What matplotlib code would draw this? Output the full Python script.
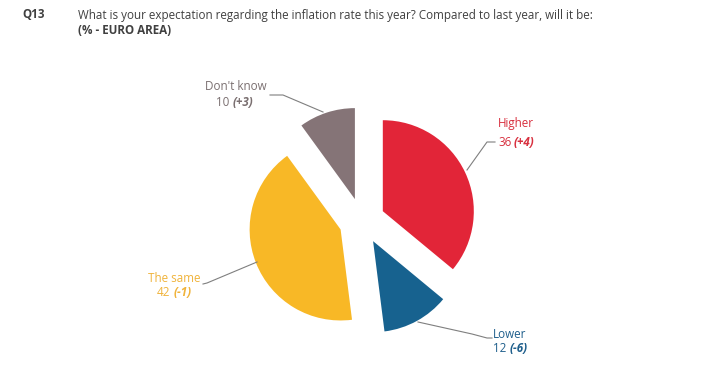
import matplotlib.pyplot as plt

plt.rcParams['font.family'] = ['Open Sans', 'DejaVu Sans']

labels = ["Higher", "Lower", "The same", "Don't know"]
values = [36, 12, 42, 10]
changes = ["(+4)", "(-6)", "(-1)", "(+3)"]
colors = ["#E22538", "#17628F", "#F8B826", "#857477"]
text_colors = ["#D8303F", "#1F5F8C", "#F0B33A", "#7A6F70"]

W, H = 705, 369

fig = plt.figure(figsize=(W / 100, H / 100), dpi=100)
ax = fig.add_axes([0, 0, 1, 1])

cx, cy, r = 362, H - 221, 91
# explode is in data units here (pixels)
ax.pie(values, colors=colors, startangle=90, counterclock=False,
       explode=[23] * 4, radius=r, center=(cx, cy),
       wedgeprops=dict(linewidth=0), frame=False)
ax.set_xlim(0, W)
ax.set_ylim(0, H)
ax.set_aspect('auto')
ax.axis('off')

fs = 8.4
# header
ax.text(22, H - 15, "Q13", fontsize=fs, fontweight='bold', color='#404040', va='center')
ax.text(78, H - 15, "What is your expectation regarding the inflation rate this year? "
        "Compared to last year, will it be:", fontsize=fs, color='#404040', va='center')
ax.text(78, H - 31, "(% - EURO AREA)", fontsize=fs, fontweight='bold', color='#404040', va='center')

# label placement (top-down pixel positions): name pos, value line, alignment, leader line
label_pos = {
    "Higher": ((498, 123), (498, 142), 'left', [(467, 170), (487, 142), (495, 142)]),
    "Lower": ((493, 334), (493, 348), 'left', [(418, 322), (472, 334), (487, 338), (492, 338)]),
    "The same": ((174, 279), (157, 293), 'center', [(257, 262), (207, 283), (203, 284)]),
    "Don't know": ((236, 87), (216, 103), 'center', [(323, 112), (283, 95), (270, 95)]),
}

for lab, val, chg, tc in zip(labels, values, changes, text_colors):
    (nx, ny), (vx, vy), ha, line = label_pos[lab]
    ax.text(nx, H - ny, lab, fontsize=fs, color=tc, ha=ha, va='center')
    t = ax.text(vx, H - vy, str(val), fontsize=fs, color=tc, ha='left', va='center')
    ax.annotate(chg, xy=(1, 0.5), xycoords=t, xytext=(2, 0), textcoords='offset points',
                fontsize=fs, color=tc, fontweight='bold', fontstyle='italic',
                ha='left', va='center')
    ax.plot([p[0] for p in line], [H - p[1] for p in line], color='#7F7F7F', lw=0.8)

fig.savefig("out.png", dpi=100)
